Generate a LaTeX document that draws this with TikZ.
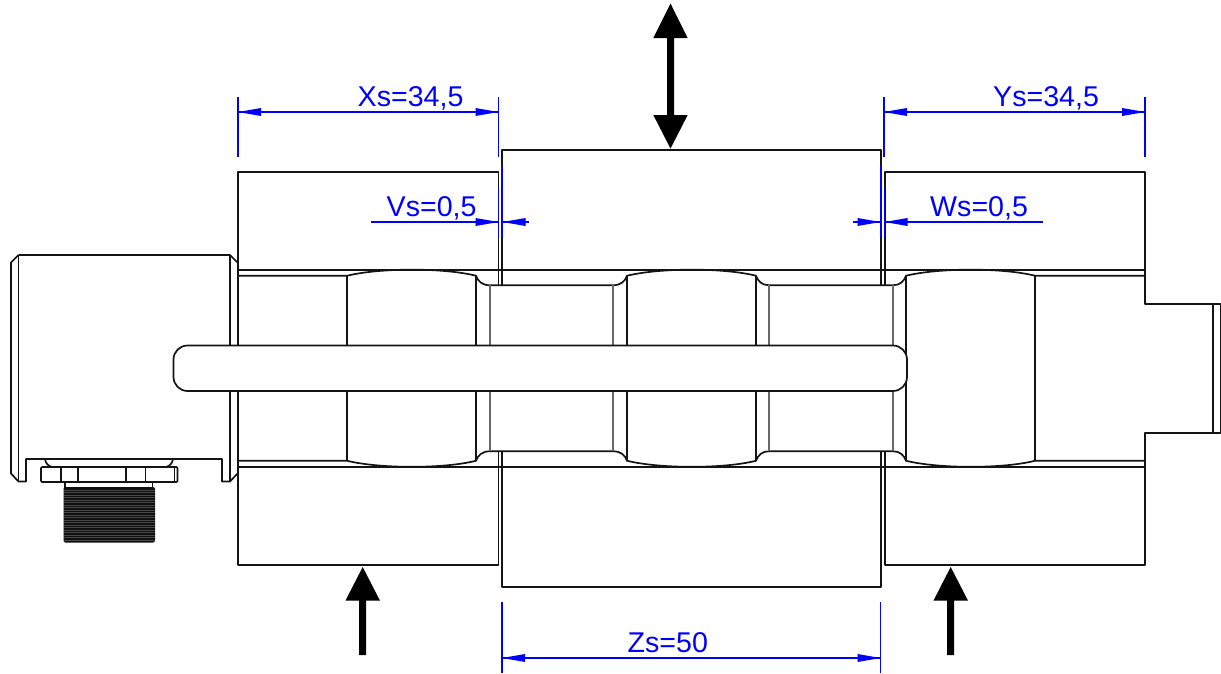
\documentclass[tikz,border=0pt]{standalone}
\usepackage{fontspec}
\setmainfont{Liberation Sans}
\definecolor{dimblue}{RGB}{0,0,255}
\definecolor{neckgray}{RGB}{105,105,105}
\definecolor{threadfill}{RGB}{16,16,16}
\definecolor{threadline}{RGB}{72,72,72}
\tikzset{
  part/.style={draw=black!92,line width=1.7pt,line join=round},
  thinline/.style={draw=neckgray,line width=1.2pt},
  dimline/.style={draw=dimblue,line width=1.15pt},
  dimhead/.style={fill=dimblue,draw=none},
  dimtext/.style={text=dimblue,inner sep=0pt,anchor=base west,font=\fontsize{28.6}{30}\selectfont},
  bigarrow/.style={fill=black,draw=none}
}
\newcommand{\headL}[2]{\fill[dimhead] (#1,#2) -- (#1+23,#2-4) -- (#1+23,#2+4) -- cycle;}
\newcommand{\headR}[2]{\fill[dimhead] (#1,#2) -- (#1-23,#2-4) -- (#1-23,#2+4) -- cycle;}
\newcommand{\uparrowshape}[4]{% x, tip y, base y, tail y
  \fill[bigarrow] (#1,#2) -- (#1+17.3,#3) -- (#1+3.5,#3) -- (#1+3.5,#4) -- (#1-3.5,#4) -- (#1-3.5,#3) -- (#1-17.3,#3) -- cycle;}
\begin{document}
\begin{tikzpicture}[x=1pt,y=-1pt]
\useasboundingbox (0,0) rectangle (1221,673);
\fill[white] (0,0) rectangle (1221,673);

% connector housing
\draw[part] (18.5,255) -- (230,255) -- (238,263) (238,473) -- (230,481.5) -- (222,481.5) -- (222,459) -- (26,459) -- (26,481.5) -- (18.5,481.5) -- (11,473.5) -- (11,262.5) -- (18.5,255);
\draw[part] (18.5,255) -- (18.5,481.5) (230,255) -- (230,481.5);

% nut and threaded stem
\draw[part] (45,459) .. controls (45.5,463) and (48,466) .. (52,467);
\draw[part] (173,459) .. controls (172.5,463) and (170,466) .. (166,467);
\draw[part,rounded corners=1pt,fill=white] (41,467) rectangle (177.5,482);
\draw[part] (61,467) -- (61,482) (78,467) -- (78,482) (126,467) -- (126,482) (145.5,467) -- (145.5,482) (174.5,467) -- (174.5,482);
\draw[part] (65,482) -- (65,488) (152.5,482) -- (152.5,488);
\fill[threadfill,rounded corners=2pt] (63.5,487) rectangle (155,542.5);
\foreach \ty in {490,492.5,...,540}{
  \draw[threadline,line width=.4pt] (64,\ty) -- (154.5,\ty);
}

% blocks
\draw[part] (498.5,285) -- (498.5,172) -- (238,172) -- (238,565) -- (498.5,565) -- (498.5,451);
\draw[part] (502,285) -- (502,150) -- (881,150) -- (881,285);
\draw[part] (502,451) -- (502,587) -- (881,587) -- (881,451);
\draw[part] (885,285) -- (885,172) -- (1145,172) -- (1145,304) -- (1220.5,304) -- (1220.5,433) -- (1145,433) -- (1145,565) -- (885,565) -- (885,451);
\draw[part] (1213,304) -- (1213,433);

% rail lines and profile, mirrored about the axis
\foreach \s in {1,-1}{
\begin{scope}[shift={(0,368.25)},yscale=\s]
  \draw[part] (238,-98.6) -- (1145,-98.6);
  \draw[part] (238,-92.5) -- (347,-92.5)
    .. controls (380,-100.6) and (444,-100.6) .. (476,-92.5)
    .. controls (478,-87) and (482,-83) .. (490,-83)
    -- (613,-83)
    .. controls (621,-83) and (625,-87) .. (627,-92.5)
    .. controls (660,-100.6) and (724,-100.6) .. (756,-92.5)
    .. controls (758,-87) and (762,-83) .. (769,-83)
    -- (893,-83)
    .. controls (900,-83) and (904,-87) .. (906,-92.5)
    .. controls (939,-100.6) and (1003,-100.6) .. (1035,-92.5)
    -- (1145,-92.5);
\end{scope}}
\foreach \vx in {347,476,627,756,906,1035}{
  \draw[part] (\vx,276) -- (\vx,460.5);
}
\foreach \vx in {490,613,769,893}{
  \draw[thinline] (\vx,285) -- (\vx,451);
}

% central bar
\draw[part,fill=white,rounded corners=14pt] (173.5,345.5) rectangle (907,391);

% dimension Xs
\draw[dimline] (238,97) -- (238,157) (498.5,97) -- (498.5,157) (238,112) -- (498.5,112);
\headL{238}{112}\headR{498.5}{112}
\node[dimtext] (xs) at (357.5,106) {Xs=34,5};
% dimension Ys
\draw[dimline] (884,97) -- (884,157) (1145,97) -- (1145,157) (884,112) -- (1145,112);
\headL{884}{112}\headR{1145}{112}
\node[dimtext] (ys) at (993,106) {Ys=34,5};
% dimension Vs
\draw[dimline] (498.5,187) -- (498.5,237) (502,165) -- (502,237) (371,222) -- (498.5,222) (502,222) -- (529,222);
\headR{498.5}{222}\headL{502.5}{222}
\node[dimtext] (vs) at (386.5,216) {Vs=0,5};
% dimension Ws
\draw[dimline] (881,165) -- (881,237) (884.5,187) -- (884.5,237) (853,222) -- (881,222) (884.5,222) -- (1043,222);
\headR{880.5}{222}\headL{884.5}{222}
\node[dimtext] (ws) at (930,216) {Ws=0,5};
% dimension Zs
\draw[dimline] (502,602) -- (502,673) (880.5,602) -- (880.5,673) (502,658) -- (880.5,658);
\headL{502}{658}\headR{880.5}{658}
\node[dimtext] (zs) at (627.5,652) {Zs=50};

% force arrows
\fill[bigarrow] (670.5,3.5) -- (687.7,38) -- (674,38) -- (674,115) -- (687.7,115) -- (670.5,148.5) -- (653.3,115) -- (667,115) -- (667,38) -- (653.3,38) -- cycle;
\uparrowshape{362.7}{567}{600.7}{655}
\uparrowshape{950.7}{567}{600.7}{655}
\end{tikzpicture}
\end{document}
